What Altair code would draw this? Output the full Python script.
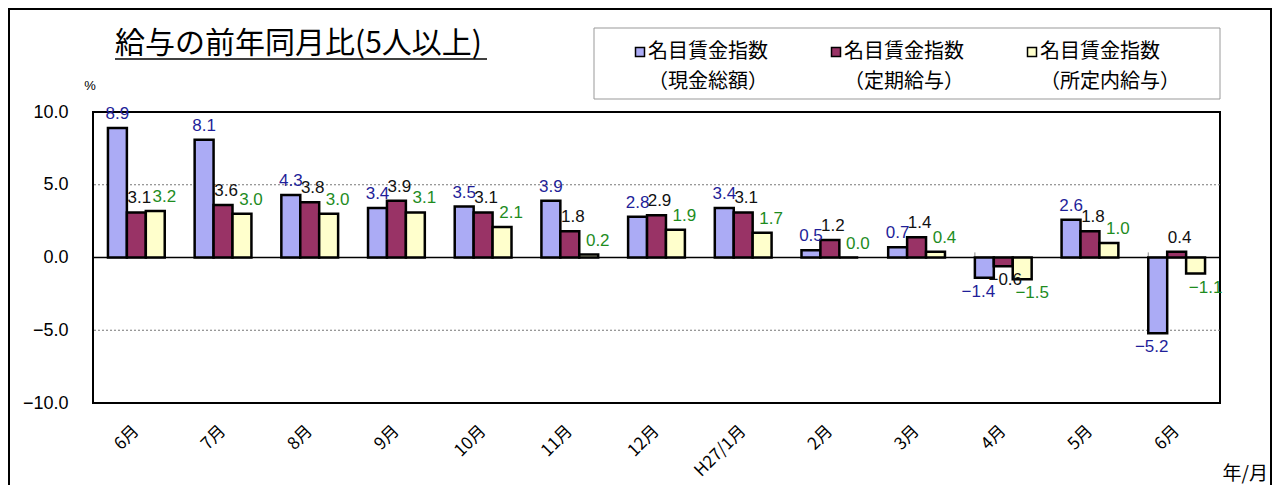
import altair as alt
import pandas as pd

# ---------------- data ----------------
months = ["6月", "7月", "8月", "9月", "10月", "11月", "12月", "H27/1月",
          "2月", "3月", "4月", "5月", "6月"]
series_keys = ["現金総額", "定期給与", "所定内給与"]
total = [8.9, 8.1, 4.3, 3.4, 3.5, 3.9, 2.8, 3.4, 0.5, 0.7, -1.4, 2.6, -5.2]
regular = [3.1, 3.6, 3.8, 3.9, 3.1, 1.8, 2.9, 3.1, 1.2, 1.4, -0.6, 1.8, 0.4]
scheduled = [3.2, 3.0, 3.0, 3.1, 2.1, 0.2, 1.9, 1.7, 0.0, 0.4, -1.5, 1.0, -1.1]
y_ticks = [-10, -5, 0, 5, 10]
grid_vals = [-5, 5]
title_text = "給与の前年同月比(5人以上)"
legend_head = "名目賃金指数"

bar_colors = ["#ABABF5", "#993366", "#FFFFCC"]
label_colors = ["#1F1F99", "#111111", "#1E8C1E"]
label_dx_pos = [0, 3, 9]
label_dx_neg = [-6, 2, 10]

rows = []
for i in range(len(months)):
    for s, vals in zip(series_keys, [total, regular, scheduled]):
        rows.append({"idx": i, "series": s, "value": vals[i]})
df = pd.DataFrame(rows)

NUM_FONT = "Liberation Sans"
JP_FONT = "Noto Sans CJK JP"

month_expr = "[" + ",".join("'" + m + "'" for m in months) + "][datum.value]"

W, H = 1127, 291

x_enc = alt.X(
    "idx:O",
    scale=alt.Scale(paddingInner=0.345, paddingOuter=0.1725),
    axis=alt.Axis(
        title=None, labelExpr=month_expr, labelAngle=-45, labelAlign="right",
        labelBaseline="middle", labelPadding=25, ticks=False, domain=False,
        labelFont=JP_FONT, labelFontSize=17, labelColor="black", grid=False,
    ),
)
xoff = alt.XOffset("series:N", sort=series_keys,
                   scale=alt.Scale(paddingInner=0, paddingOuter=0))
y_scale = alt.Scale(domain=[-10, 10], nice=False, zero=False)
y_enc = alt.Y(
    "value:Q", scale=y_scale,
    axis=alt.Axis(
        title=None, values=y_ticks, format=".1f", ticks=False, domain=False,
        grid=False, labelFont=NUM_FONT, labelFontSize=18, labelColor="black",
        labelPadding=25,
    ),
)

# grid lines at ±5
grid = alt.Chart(pd.DataFrame({"g": grid_vals})).mark_rule(
    color="#777", strokeDash=[2, 2], strokeWidth=1
).encode(y=alt.Y("g:Q", scale=y_scale))

zero = alt.Chart(pd.DataFrame({"z": [0]})).mark_rule(
    color="black", strokeWidth=1.3
).encode(y=alt.Y("z:Q", scale=y_scale))

ticks_df = pd.DataFrame({"idx": list(range(1, len(months)))})
ticks = alt.Chart(ticks_df).mark_rule(color="#888", strokeWidth=1).encode(
    x=alt.X("idx:O", bandPosition=0),
    y=alt.datum(0, scale=y_scale),
    y2=alt.datum(0.35),
)

bars = alt.Chart(df).mark_bar(stroke="black", strokeWidth=2.5).encode(
    x=x_enc,
    xOffset=xoff,
    y=y_enc,
    y2=alt.datum(0),
    fill=alt.Fill("series:N", scale=alt.Scale(domain=series_keys, range=bar_colors),
                  legend=None),
)

label_layers = []
for s, col, dxp, dxn in zip(series_keys, label_colors, label_dx_pos, label_dx_neg):
    for sign in ["pos", "neg"]:
        cond = (f"datum.series == '{s}' && datum.value >= 0" if sign == "pos"
                else f"datum.series == '{s}' && datum.value < 0")
        lay = alt.Chart(df).transform_filter(cond).mark_text(
            font=NUM_FONT, fontSize=17, color=col,
            dx=dxp if sign == "pos" else dxn,
            dy=-5 if sign == "pos" else 6,
            baseline="bottom" if sign == "pos" else "top",
        ).encode(
            x=alt.X("idx:O"),
            xOffset=alt.XOffset("series:N", sort=series_keys),
            y=alt.Y("value:Q"),
            text=alt.Text("value:Q", format=".1f"),
        )
        label_layers.append(lay)

one = pd.DataFrame({"t": [title_text]})

frame = alt.Chart(one).mark_rect(fill=None, stroke="black", strokeWidth=2).encode(
    x=alt.value(-84), x2=alt.value(1178), y=alt.value(-103), y2=alt.value(520))

title = alt.Chart(one).mark_text(
    font=JP_FONT, fontSize=30, align="left", baseline="alphabetic", color="black"
).encode(x=alt.value(22), y=alt.value(-59), text="t:N")
underline = alt.Chart(one).mark_rule(color="black", strokeWidth=1.5).encode(
    x=alt.value(22), x2=alt.value(394), y=alt.value(-53))

pct = alt.Chart(pd.DataFrame({"t": ["%"]})).mark_text(
    font=NUM_FONT, fontSize=13, color="black"
).encode(x=alt.value(-3), y=alt.value(-26), text="t:N")

ym = alt.Chart(pd.DataFrame({"t": ["年/月"]})).mark_text(
    font=JP_FONT, fontSize=19, color="black", align="right", baseline="bottom"
).encode(x=alt.value(1175), y=alt.value(372), text="t:N")

legend_box = alt.Chart(one).mark_rect(fill="white", stroke="#999", strokeWidth=1).encode(
    x=alt.value(501), x2=alt.value(1127), y=alt.value(-84), y2=alt.value(-13))

legend_layers = [legend_box]
for i, (s, colr) in enumerate(zip(series_keys, bar_colors)):
    cx = 547 + i * 196
    ldf = pd.DataFrame({"t": [legend_head + "|（" + s + "）"]})
    sq = alt.Chart(ldf).mark_square(
        size=81, fill=colr, stroke="black", strokeWidth=1.5, opacity=1
    ).encode(x=alt.value(cx), y=alt.value(-60))
    tx = alt.Chart(ldf).mark_text(
        font=JP_FONT, fontSize=20, align="left", baseline="middle",
        lineBreak="|", lineHeight=30, color="black"
    ).encode(x=alt.value(cx + 8), y=alt.value(-60), text="t:N")
    legend_layers += [sq, tx]

chart = alt.layer(
    frame, grid, zero, ticks, bars, *label_layers,
    title, underline, pct, ym, *legend_layers,
).properties(
    width=W, height=H,
    background="white",
    autosize=alt.AutoSizeParams(type="none"),
    padding={"left": 85, "top": 104, "right": 52, "bottom": 82},
).configure_view(stroke="black", strokeWidth=2)

chart.save("out.html", embed_options={"renderer": "svg", "actions": False})
